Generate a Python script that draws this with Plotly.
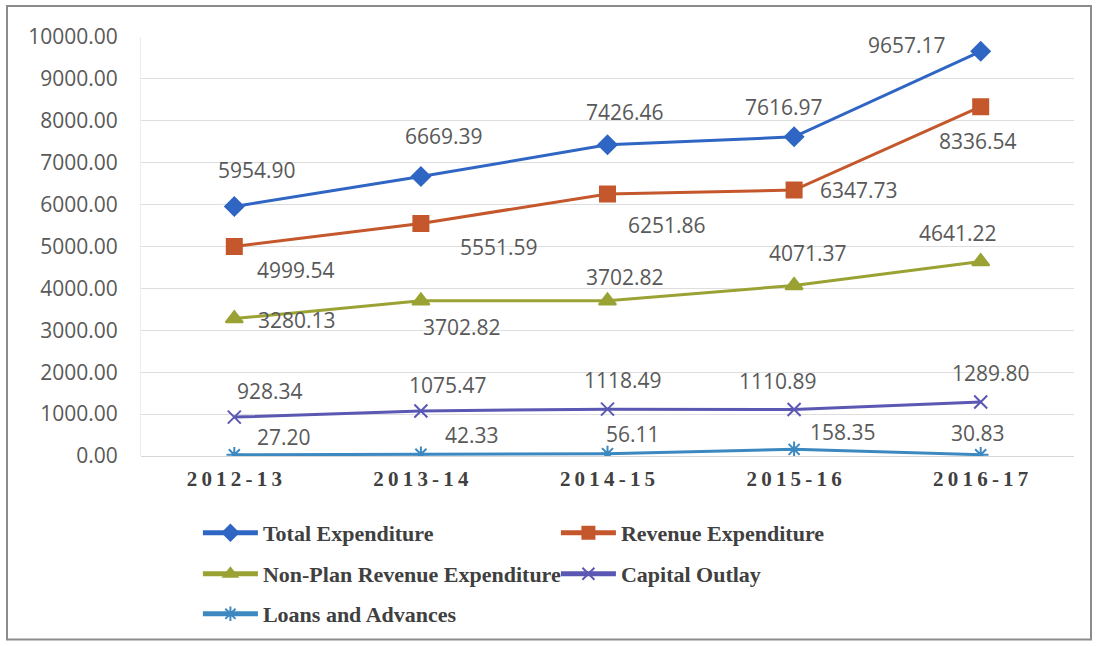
import plotly.graph_objects as go

years = ["2012-13", "2013-14", "2014-15", "2015-16", "2016-17"]

total_expenditure = [5954.90, 6669.39, 7426.46, 7616.97, 9657.17]
revenue_expenditure = [4999.54, 5551.59, 6251.86, 6347.73, 8336.54]
non_plan_revenue = [3280.13, 3702.82, 3702.82, 4071.37, 4641.22]
capital_outlay = [928.34, 1075.47, 1118.49, 1110.89, 1289.80]
loans_advances = [27.20, 42.33, 56.11, 158.35, 30.83]

y_ticks = [0, 1000, 2000, 3000, 4000, 5000, 6000, 7000, 8000, 9000, 10000]

# name, values, colour, marker symbol, marker size, legend row, label offsets (px)
series = [
    ("Total Expenditure", total_expenditure, "#2f66c4", "diamond", 14, "legend",
     [(23, 36), (23, 41), (17, 33), (-10, 30), (-74, 6)]),
    ("Revenue Expenditure", revenue_expenditure, "#c4572b", "square", 15, "legend",
     [(62, -23), (78, -24), (59, -31), (65, 0), (-3, -34)]),
    ("Non-Plan Revenue Expenditure", non_plan_revenue, "#9aa234", "triangle-up", 15, "legend2",
     [(63, -1), (41, -26), (17, 24), (14, 32), (-23, 29)]),
    ("Capital Outlay", capital_outlay, "#5a58b2", "x-thin-open", 13, "legend2",
     [(36, 26), (27, 26), (15, 29), (-16, 28), (10, 29)]),
    ("Loans and Advances", loans_advances, "#3c88c1", "asterisk-open", 13, "legend3",
     [(50, 18), (51, 19), (25, 20), (49, 17), (-3, 22)]),
]

fig = go.Figure()
annotations = []
for name, vals, color, symbol, size, leg, offsets in series:
    fig.add_trace(go.Scatter(
        x=years, y=vals, name=name, mode="lines+markers", legend=leg,
        line=dict(color=color, width=3),
        marker=dict(symbol=symbol, size=size, color=color,
                    line=dict(color=color, width=2)),
    ))
    for xv, yv, (dx, dy) in zip(years, vals, offsets):
        annotations.append(dict(
            x=xv, y=yv, xref="x", yref="y", text=f"{yv:.2f}",
            showarrow=False, xshift=dx, yshift=dy,
            font=dict(family="Open Sans", size=21, color="#595959"),
        ))

spaced = ["\u2009".join(list(y)) for y in years]

legend_font = dict(family="Liberation Serif", size=22, color="#404040", weight="bold")


def legend_row(y):
    return dict(
        orientation="h", x=0.061, y=y, xanchor="left", yanchor="middle",
        entrywidth=288, entrywidthmode="pixels",
        itemwidth=55, itemsizing="constant",
        font=legend_font, bgcolor="rgba(0,0,0,0)",
    )


fig.update_layout(
    width=1096, height=646,
    margin=dict(l=141, r=22, t=37, b=189),
    paper_bgcolor="white", plot_bgcolor="white",
    showlegend=True,
    legend=legend_row((457 - 533) / 420),
    legend2=legend_row((457 - 574) / 420),
    legend3=legend_row((457 - 614) / 420),
    xaxis=dict(
        type="category", range=[-0.5, 4.5],
        tickmode="array", tickvals=years, ticktext=spaced,
        showgrid=False, zeroline=False, showline=False, ticks="",
        ticklabelstandoff=8,
        tickfont=dict(family="Liberation Serif", size=21, color="#404040",
                      weight="bold"),
    ),
    yaxis=dict(
        range=[0, 10000], tickmode="array", tickvals=y_ticks,
        tickformat=".2f",
        showgrid=True, gridcolor="#dedede", gridwidth=1,
        zeroline=True, zerolinecolor="#d6d6d6", zerolinewidth=1,
        showline=True, linecolor="#ececec", linewidth=1,
        ticks="", ticklabelstandoff=18,
        tickfont=dict(family="Open Sans", size=21, color="#595959"),
    ),
    annotations=annotations,
    shapes=[dict(
        type="rect", xref="paper", yref="paper",
        x0=(7 - 141) / 933, x1=(1091 - 141) / 933,
        y0=(457 - 641) / 420, y1=(457 - 6) / 420,
        line=dict(color="#8c8c8c", width=2), fillcolor="rgba(0,0,0,0)",
        layer="below",
    )],
)

fig.write_html("out.html")
